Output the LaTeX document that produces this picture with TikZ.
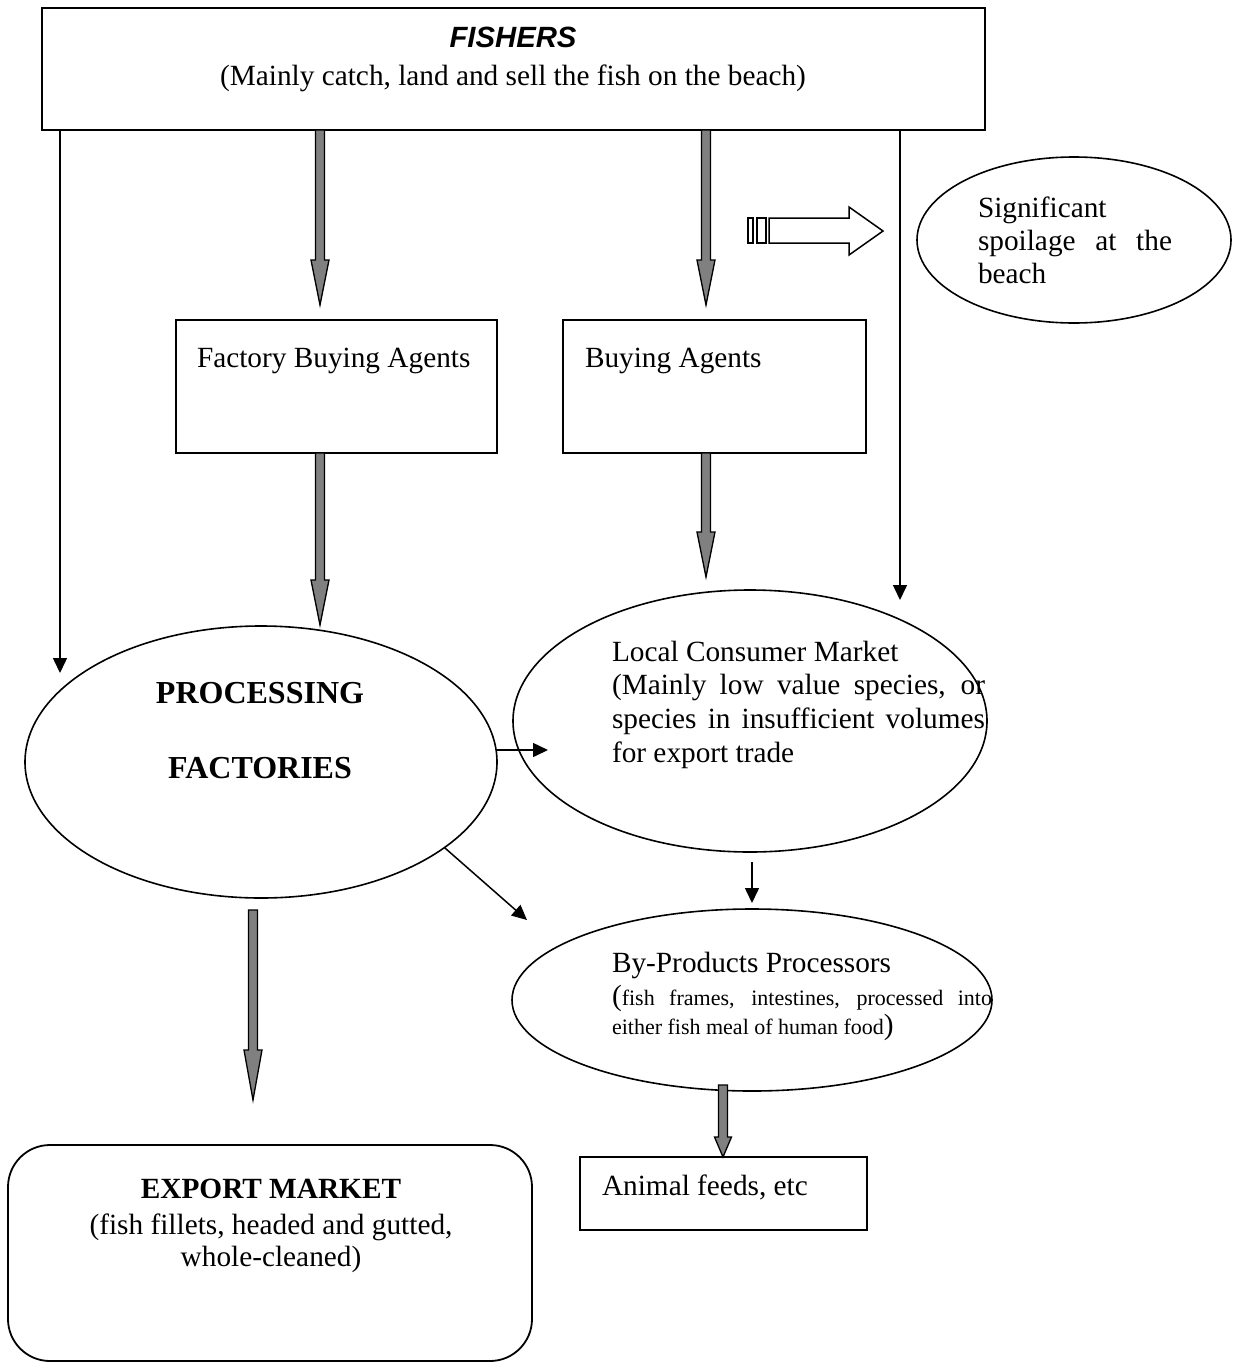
\documentclass[tikz,border=0pt]{standalone}
\usepackage{fontspec}
\setmainfont{Liberation Serif}
\setsansfont{Liberation Sans}
\usetikzlibrary{shapes.geometric,arrows.meta,calc}
\parindent=0pt
\newcommand{\mainsize}{\fontsize{29.3}{33.7}\selectfont}
\newcommand{\bigbold}{\fontsize{32}{36}\selectfont\bfseries}
\newcommand{\smallsize}{\fontsize{22}{27}\selectfont}
% #1 start, #2 tip, #3 head length, #4 head half width
\newcommand{\fatarrow}[4]{%
  \path[fat] let \p1=(#1), \p2=(#2) in
   (\x1-4.5,\y1) -- (\x1-4.5,\y2+#3) -- (\x1-#4,\y2+#3) -- (\x1,\y2)
   -- (\x1+#4,\y2+#3) -- (\x1+4.5,\y2+#3) -- (\x1+4.5,\y1) -- cycle;}
\begin{document}
\begin{tikzpicture}[x=1pt,y=-1pt,
  box/.style={draw, line width=1.8pt, rectangle, inner sep=0pt, outer sep=0pt},
  oval/.style={draw, line width=1.6pt, ellipse, inner sep=0pt, outer sep=0pt},
  thinarrow/.style={line width=1.5pt, -{Triangle[length=15pt,width=14pt]}},
  fat/.style={draw=black, fill=black!50, line width=1.3pt, line join=miter},
  txt/.style={inner sep=0pt, outer sep=0pt, font=\mainsize},
]
\useasboundingbox (0,0) rectangle (1232,1363);

% ---- shapes
\node[box, minimum width=943pt, minimum height=122pt] (fishers) at (513.5,69) {};
\node[box, minimum width=321pt, minimum height=133pt] (fba) at (336.5,386.5) {};
\node[box, minimum width=303pt, minimum height=133pt] (ba) at (714.5,386.5) {};
\node[oval, minimum width=314pt, minimum height=166pt] (spoil) at (1074,240) {};
\node[oval, minimum width=472pt, minimum height=272pt] (pf) at (261,762) {};
\node[oval, minimum width=474pt, minimum height=262pt] (lcm) at (750,721) {};
\node[oval, minimum width=480pt, minimum height=182pt] (bp) at (752,1000) {};
\node[box, minimum width=287pt, minimum height=73pt] (af) at (723.5,1193.5) {};
\node[box, rounded corners=42pt, minimum width=524pt, minimum height=216pt] (exp) at (270,1253) {};

% ---- texts
\node[txt, anchor=base] (t-fishers) at (513,47) {\sffamily\bfseries\itshape FISHERS};
\node[txt, anchor=base] (t-fishers2) at (513,85) {(Mainly catch, land and sell the fish on the beach)};
\node[txt, anchor=base west] (t-fba) at (197,367) {Factory Buying Agents};
\node[txt, anchor=base west] (t-ba) at (585,367) {Buying Agents};
\node[txt, anchor=base west] (t-sp1) at (978,217) {Significant};
\node[txt, anchor=base west] (t-sp2) at (978,250) {\makebox[194pt][s]{spoilage at the}};
\node[txt, anchor=base west] (t-sp3) at (978,283) {beach};
\node[txt, anchor=base, font=\bigbold] (t-pf1) at (260,703) {PROCESSING};
\node[txt, anchor=base, font=\bigbold] (t-pf2) at (260,778) {FACTORIES};
\node[txt, anchor=base west] (t-l1) at (612,661) {Local Consumer Market};
\node[txt, anchor=base west] (t-l2) at (612,694) {\makebox[373pt][s]{(Mainly low value species, or}};
\node[txt, anchor=base west] (t-l3) at (612,728) {\makebox[373pt][s]{species in insufficient volumes}};
\node[txt, anchor=base west] (t-l4) at (612,762) {for export trade};
\node[txt, anchor=base west] (t-b1) at (612,972) {By-Products Processors};
\node[txt, anchor=base west] (t-b2) at (612,1005) {\makebox[380pt][s]{(\smallsize fish frames, intestines, processed into}};
\node[txt, anchor=base west] (t-b3) at (612,1034) {\smallsize either fish meal of human food\mainsize)};
\node[txt, anchor=base west] (t-af) at (602,1195) {Animal feeds, etc};
\node[txt, anchor=base] (t-e1) at (271,1198) {\bfseries EXPORT MARKET};
\node[txt, anchor=base] (t-e2) at (271,1234) {(fish fillets, headed and gutted,};
\node[txt, anchor=base] (t-e3) at (271,1266) {whole-cleaned)};

% ---- thick grey arrows
\coordinate (tip1) at (320,305);
\coordinate (tip2) at (706,305);
\coordinate (tip3) at (320,625);
\coordinate (tip4) at (706,577);
\coordinate (src5) at (253,910);
\coordinate (tip5) at (253,1100);
\coordinate (src6) at (723,1085);
\fatarrow{fishers.south -| tip1}{tip1}{45}{9}
\fatarrow{fishers.south -| tip2}{tip2}{45}{9}
\fatarrow{fba.south -| tip3}{tip3}{45}{9}
\fatarrow{ba.south -| tip4}{tip4}{45}{9}
\fatarrow{src5}{tip5}{50}{9}
\fatarrow{src6}{af.north -| src6}{20}{8.5}

% ---- thin arrows
\coordinate (left-tip) at (60,673);
\coordinate (right-tip) at (900,600);
\coordinate (lcm-tip) at (548,750);
\coordinate (bp-tip) at (527,920);
\coordinate (down-src) at (752,862);
\coordinate (down-tip) at (752,903);
\draw[thinarrow] (fishers.south -| left-tip) -- (left-tip);
\draw[thinarrow] (fishers.south -| right-tip) -- (right-tip);
\draw[thinarrow] (lcm-tip -| pf.east) -- (lcm-tip);
\draw[thinarrow] (pf.-25) -- (bp-tip);
\draw[thinarrow] (down-src) -- (down-tip);

% ---- striped block arrow towards spoilage
\draw[line width=1.5pt] (748,218) rectangle (753,243);
\draw[line width=1.5pt] (757,218) rectangle (766,243);
\draw[line width=1.5pt, line join=miter] (769,218) -- (849,218) -- (849,207) -- (883,231)
   -- (849,255) -- (849,243) -- (769,243) -- cycle;
\end{tikzpicture}
\end{document}
